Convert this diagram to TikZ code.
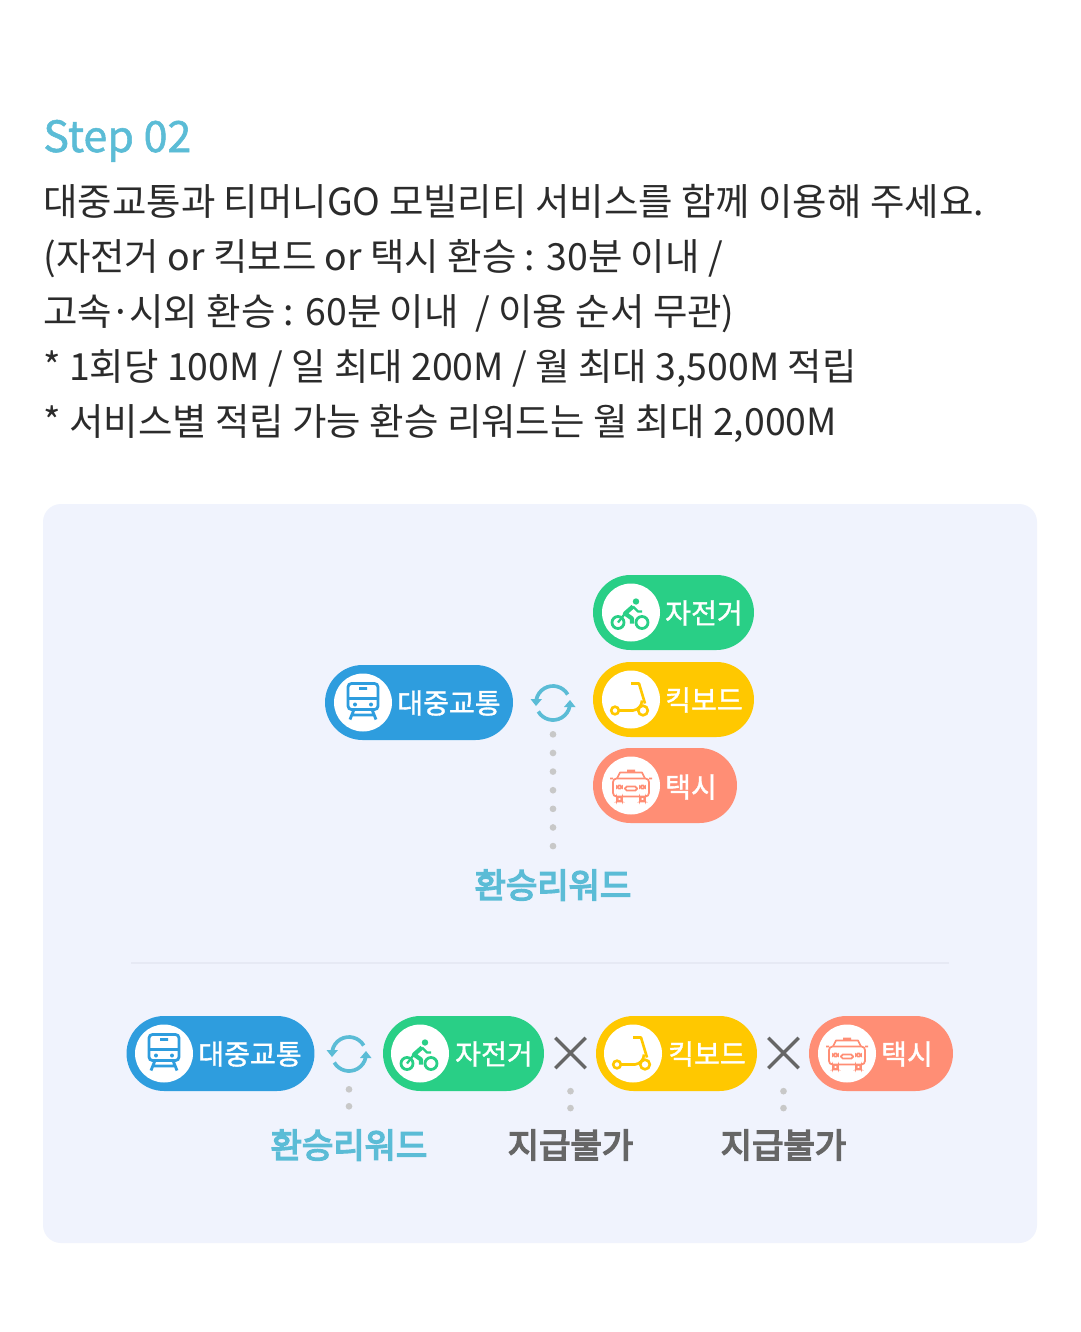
\documentclass[tikz,border=0pt]{standalone}
\usepackage{fontspec}
\setmainfont{Noto Sans CJK KR}
\newfontfamily\midfont[FakeBold=1.2]{Noto Sans CJK KR}
\newfontfamily\heavyfont[FakeBold=4.5]{Noto Sans CJK KR}
\usetikzlibrary{shapes.misc}
\definecolor{paneblue}{HTML}{F0F3FD}
\definecolor{ruleblue}{HTML}{E6E9F4}
\definecolor{rewardblue}{HTML}{5BBCD6}
\definecolor{transitblue}{HTML}{2E9DDE}
\definecolor{bikegreen}{HTML}{29CF86}
\definecolor{kickyellow}{HTML}{FFC800}
\definecolor{taxired}{HTML}{FF8E75}
\definecolor{dotgrey}{HTML}{C8C8C8}
\definecolor{markgrey}{HTML}{666666}
\definecolor{bodyblack}{HTML}{2B2B2B}
\tikzset{
  bodyline/.style={anchor=base west,inner sep=0pt,text=bodyblack,font=\fontsize{21.3}{25}\selectfont},
  pill/.style={minimum height=1.5cm,inner sep=0pt,rounded corners=0.75cm},
  disc/.style={circle,fill=white,minimum size=1.16cm,inner sep=0pt},
  pilltext/.style={inner sep=0pt,text=white,font=\midfont\fontsize{16}{18}\selectfont},
  reward/.style={inner sep=0pt,font=\heavyfont\fontsize{19.4}{22}\selectfont},
  crossmark/.style={cross out,draw=markgrey,line width=1.9pt,minimum size=0.54cm,inner sep=0pt},
  cyclenode/.style={circle,minimum size=0.8cm,inner sep=0pt},
  dotline/.style={draw=dotgrey,line width=3.8pt,line cap=round},
  trainicon/.pic={
    \draw[line width=1.6pt,rounded corners=2pt]
      (-15,-19) rectangle (15,7);
    \draw[line width=1.6pt]
      (-15,-4) -- (15,-4)
      (-4,-14) -- (4,-14)
      (-9,7) -- (-13,17)
      (9,7) -- (13,17)
      (-11,12.5) -- (11,12.5);
    \fill
      (-8,2) circle (2)
      (8,2) circle (2);
  },
  bikeicon/.pic={
    \draw[line width=1.6pt]
      (-13,10) circle (6)
      (11,10) circle (6);
    \fill
      (5,-11) circle (3.2);
    \draw[line width=2.4pt,line join=round]
      (2,-6) -- (-6,1) -- (1,6) -- (1,11);
    \draw[line width=1.3pt,line join=round]
      (2,-6) -- (7,-1) -- (11,-1)
      (-13,10) -- (-6,1);
  },
  kickicon/.pic={
    \draw[line width=1.5pt]
      (-16,11) circle (3.8)
      (12,11) circle (4.8);
    \draw[line width=1.5pt,line join=round]
      (0,-16) -- (8,-16) -- (14,4)
      (-12,11) -- (2,11) to[bend right=40] (11,1);
  },
  taxiicon/.pic={
    \draw[line width=1pt,line join=round]
      (-4,-15) -- (4,-15)
      (-14,-7) -- (-11,-13) -- (11,-13) -- (14,-7)
      (-18,-7) -- (-21,-7)
      (18,-7) -- (21,-7);
    \draw[line width=1pt,rounded corners=2pt]
      (-18,-7) rectangle (18,11)
      (-14,11) rectangle (-9,16)
      (9,11) rectangle (14,16);
    \draw[line width=1pt,rounded corners=1pt]
      (-6,1) rectangle (6,5)
      (-14,0) rectangle (-9,3)
      (9,0) rectangle (14,3);
  },
  cycleicon/.pic={
    \draw[line width=2.1pt]
      (14.7,-8.5) arc (-30:-170:17)
      (-14.7,8.5) arc (150:10:17);
    \fill
      (-22.5,-4) -- (-11,-4) -- (-17,3) -- cycle
      (22.5,4) -- (11,4) -- (17,-3) -- cycle;
  },
}

\begin{document}
\begin{tikzpicture}[x=0.02cm,y=-0.02cm]
  \useasboundingbox
    (0,0) rectangle (1080,1332);
  \fill[white]
    (0,0) rectangle (1080,1332);

  \node[anchor=base west,inner sep=0pt,text=rewardblue,font=\midfont\fontsize{24.5}{28}\selectfont] (title) at (43,152) {Step 02};
  \node[bodyline] (lineone) at (43,215) {대중교통과 티머니GO 모빌리티 서비스를 함께 이용해 주세요.};
  \node[bodyline] (linetwo) at (43,270) {(자전거 or 킥보드 or 택시 환승 : 30분 이내 /};
  \node[bodyline] (linethree) at (43,325) {고속\kern-0.05em·\kern-0.05em시외 환승 : 60분 이내 \ / 이용 순서 무관)};
  \node[bodyline] (linefour) at (43,380) {* 1회당 100M / 일 최대 200M / 월 최대 3,500M 적립};
  \node[bodyline] (linefive) at (43,435) {* 서비스별 적립 가능 환승 리워드는 월 최대 2,000M};

  \fill[paneblue,rounded corners=0.36cm]
    (43,504) rectangle (1037,1243);
  \draw[ruleblue,line width=1.5pt]
    (131,963) -- (949,963);

  \node[pill,fill=transitblue,minimum width=3.76cm] (transit) at (419,702.5) {};
  \node[pill,fill=bikegreen,minimum width=3.22cm] (bike) at (673.5,612.5) {};
  \node[pill,fill=kickyellow,minimum width=3.22cm] (kick) at (673.5,699.5) {};
  \node[pill,fill=taxired,minimum width=2.88cm] (taxi) at (665,785.5) {};
  \node[disc] (transitdisc) at (363,702.5) {};
  \node[disc] (bikedisc) at (631,612.5) {};
  \node[disc] (kickdisc) at (631,699.5) {};
  \node[disc] (taxidisc) at (631,785.5) {};
  \pic[color=transitblue] at (transitdisc) {trainicon};
  \pic[color=bikegreen] at (bikedisc) {bikeicon};
  \pic[color=kickyellow] at (kickdisc) {kickicon};
  \pic[color=taxired] at (taxidisc) {taxiicon};
  \node[pilltext] (transittext) at (449,703) {대중교통};
  \node[pilltext] (biketext) at (704,613) {자전거};
  \node[pilltext] (kicktext) at (704,700) {킥보드};
  \node[pilltext] (taxitext) at (691,787) {택시};
  \node[cyclenode] (cycle) at (553,703) {};
  \pic[color=rewardblue] at (cycle) {cycleicon};
  \node[reward,text=rewardblue] (rewardtop) at (553,885) {환승리워드};
  \draw[dotline,dash pattern=on 0pt off 10.6pt,shorten <=0.22cm,shorten >=0.3cm]
    (cycle)
    --
    (rewardtop);

  \node[pill,fill=transitblue,minimum width=3.76cm] (transitlow) at (220.5,1053.5) {};
  \node[pill,fill=bikegreen,minimum width=3.22cm] (bikelow) at (463.5,1053.5) {};
  \node[pill,fill=kickyellow,minimum width=3.22cm] (kicklow) at (676.5,1053.5) {};
  \node[pill,fill=taxired,minimum width=2.88cm] (taxilow) at (881,1053.5) {};
  \node[disc] (transitlowdisc) at (164,1053.5) {};
  \node[disc] (bikelowdisc) at (420,1053.5) {};
  \node[disc] (kicklowdisc) at (633,1053.5) {};
  \node[disc] (taxilowdisc) at (847,1053.5) {};
  \pic[color=transitblue] at (transitlowdisc) {trainicon};
  \pic[color=bikegreen] at (bikelowdisc) {bikeicon};
  \pic[color=kickyellow] at (kicklowdisc) {kickicon};
  \pic[color=taxired] at (taxilowdisc) {taxiicon};
  \node[pilltext] (transitlowtext) at (250,1054) {대중교통};
  \node[pilltext] (bikelowtext) at (494,1054) {자전거};
  \node[pilltext] (kicklowtext) at (707,1054) {킥보드};
  \node[pilltext] (taxilowtext) at (907,1054) {택시};
  \node[cyclenode] (cyclelow) at (349,1054) {};
  \pic[color=rewardblue] at (cyclelow) {cycleicon};
  \node[crossmark] (crossone) at (570.5,1053) {};
  \node[crossmark] (crosstwo) at (783.5,1053) {};
  \node[reward,text=rewardblue] (rewardlow) at (349,1145) {환승리워드};
  \node[reward,text=markgrey] (nopayone) at (570.5,1145) {지급불가};
  \node[reward,text=markgrey] (nopaytwo) at (783.5,1145) {지급불가};
  \draw[dotline,dash pattern=on 0pt off 9.64pt,shorten <=0.3cm,shorten >=0.3cm]
    (cyclelow)
    --
    (rewardlow);
  \draw[dotline,dash pattern=on 0pt off 9.64pt,shorten <=0.46cm,shorten >=0.3cm]
    (crossone)
    --
    (nopayone);
  \draw[dotline,dash pattern=on 0pt off 9.64pt,shorten <=0.46cm,shorten >=0.3cm]
    (crosstwo)
    --
    (nopaytwo);
\end{tikzpicture}
\end{document}
